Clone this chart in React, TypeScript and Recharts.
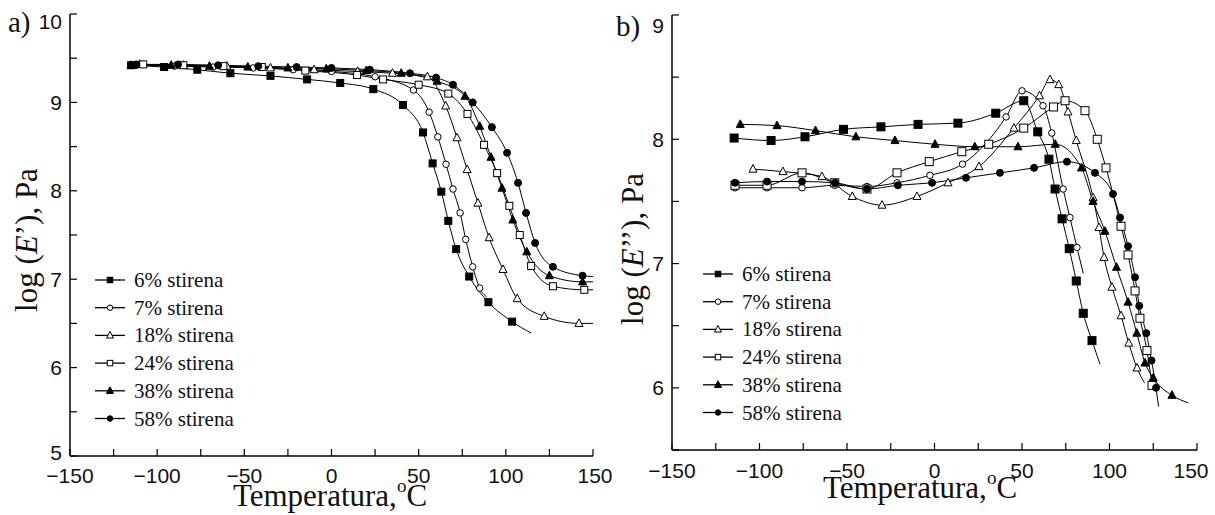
import React from 'react';
import { LineChart, Line, XAxis, YAxis, Legend } from 'recharts';

// ---------- Series names / legend ----------
const seriesNames = ['6% stirena', '7% stirena', '18% stirena', '24% stirena', '38% stirena', '58% stirena'];
const seriesShapes = ['square', 'circle', 'triangle', 'square', 'triangle', 'circle'];
const seriesFilled = [true, false, false, false, true, true];

// ---------- Panel a) log(E') ----------
const tA6 = [-115, -96, -77, -58, -35, -14, 5, 24, 41, 52.5, 58, 63, 67, 71.5, 79, 90, 103.6, 114.5];
const vA6 = [9.42, 9.40, 9.37, 9.33, 9.30, 9.26, 9.22, 9.15, 8.97, 8.66, 8.31, 7.99, 7.66, 7.34, 7.03, 6.74, 6.52, 6.39];
const tA7 = [-112, -90, -68, -45, -22, 0, 25, 47, 56, 61, 65.7, 69.7, 73.8, 77, 81, 85, 89];
const vA7 = [9.42, 9.41, 9.40, 9.39, 9.37, 9.35, 9.29, 9.14, 8.89, 8.61, 8.30, 8.02, 7.75, 7.45, 7.14, 6.90, 6.80];
const tA18 = [-110, -85, -60, -35, -10, 15, 35, 55, 65.5, 72, 77.8, 84, 90.4, 98.4, 106.5, 122, 142, 150];
const vA18 = [9.43, 9.42, 9.41, 9.39, 9.37, 9.35, 9.33, 9.29, 8.96, 8.60, 8.24, 7.86, 7.47, 7.11, 6.78, 6.58, 6.50, 6.50];
const tA24 = [-108, -85, -62, -40, -15, 14.7, 29.6, 50, 67, 78, 87.5, 95, 102, 108, 114.5, 127, 145, 150];
const vA24 = [9.43, 9.42, 9.41, 9.40, 9.36, 9.31, 9.26, 9.20, 9.10, 8.87, 8.52, 8.20, 7.83, 7.50, 7.15, 6.92, 6.88, 6.88];
const tA38 = [-115, -92, -70, -48, -25, -3, 20, 40, 60.6, 76.6, 85, 91.5, 97.8, 104, 112, 125, 144, 150];
const vA38 = [9.42, 9.42, 9.41, 9.40, 9.39, 9.38, 9.36, 9.33, 9.24, 9.07, 8.73, 8.38, 8.03, 7.67, 7.31, 7.04, 6.97, 6.97];
const tA58 = [-112, -88, -65, -42, -20, 0, 22, 45, 60, 69.7, 81, 92, 100.7, 107, 111.6, 116.8, 127, 144, 150];
const vA58 = [9.43, 9.43, 9.42, 9.41, 9.40, 9.39, 9.37, 9.33, 9.28, 9.20, 9.00, 8.72, 8.43, 8.09, 7.75, 7.41, 7.14, 7.04, 7.03];
const tailA = [true, true, true, true, true, true];

// ---------- Panel b) log(E'') ----------
const tB6 = [-114.5, -93.4, -74, -52, -30.6, -9.4, 13.4, 35, 51, 59, 65.4, 68.9, 72.9, 77, 81, 85, 90, 94.6];
const vB6 = [8.01, 7.99, 8.02, 8.08, 8.10, 8.12, 8.13, 8.21, 8.31, 8.06, 7.84, 7.60, 7.36, 7.12, 6.86, 6.60, 6.38, 6.19];
const tB7 = [-114, -95.7, -75.7, -57, -38.6, -21.4, -2.6, 16, 40.9, 50, 62, 67, 73.5, 77.4, 81.4, 85];
const vB7 = [7.61, 7.61, 7.61, 7.63, 7.62, 7.65, 7.71, 7.80, 8.18, 8.39, 8.27, 8.05, 7.60, 7.37, 7.13, 6.92];
const tB18 = [-103.7, -86.6, -64.3, -47, -30, -10, 7.7, 25.4, 45.4, 60, 66, 71, 76.3, 81, 90.6, 94, 96.9, 101.4, 106.6, 111, 115.7, 120];
const vB18 = [7.76, 7.74, 7.70, 7.54, 7.47, 7.54, 7.65, 7.78, 8.09, 8.35, 8.48, 8.44, 8.22, 7.99, 7.53, 7.29, 7.05, 6.81, 6.58, 6.36, 6.16, 6.04];
const tB24 = [-114, -95.7, -75.7, -57, -38.6, -21.4, -3, 15.6, 31, 51, 68, 74.6, 86, 93, 98, 106.6, 110.6, 114.6, 117.4, 121.4, 124.3];
const vB24 = [7.63, 7.63, 7.73, 7.65, 7.60, 7.73, 7.82, 7.90, 7.96, 8.09, 8.26, 8.31, 8.23, 8.00, 7.77, 7.30, 7.07, 6.78, 6.56, 6.30, 6.02];
const tB38 = [-111, -90, -68, -44.9, -22.6, 0.3, 23, 47.7, 69, 84, 90.6, 97.4, 104, 110.6, 115.6, 120.3, 125, 135.7, 145];
const vB38 = [8.12, 8.11, 8.07, 8.02, 7.99, 7.96, 7.94, 7.94, 7.96, 7.77, 7.50, 7.26, 6.97, 6.69, 6.44, 6.20, 6.08, 5.94, 5.88];
const tB58 = [-114, -95.7, -75.7, -56.9, -38.6, -20.9, -1.4, 18, 37.4, 56.9, 75.7, 91.7, 102, 106, 110.6, 114.6, 117, 121, 124, 126.6, 128];
const vB58 = [7.65, 7.66, 7.66, 7.65, 7.60, 7.63, 7.65, 7.69, 7.73, 7.77, 7.82, 7.73, 7.56, 7.37, 7.14, 6.89, 6.66, 6.44, 6.22, 6.00, 5.85];
const tailB = [true, true, true, false, true, true];

// ---------- Axes ----------
const xTicks = [-150, -125, -100, -75, -50, -25, 0, 25, 50, 75, 100, 125, 150];
const xLabels = [-150, -100, -50, 0, 50, 100, 150];
const yTicksA = [5, 5.5, 6, 6.5, 7, 7.5, 8, 8.5, 9, 9.5, 10];
const yLabelsA = [5, 6, 7, 8, 9, 10];
const yTicksB = [5.5, 6, 6.5, 7, 7.5, 8, 8.5, 9];
const yLabelsB = [6, 7, 8, 9];

const zip = (t: number[], v: number[]) => t.map((x, i) => ({ t: x, v: v[i] }));
const panelA = [zip(tA6, vA6), zip(tA7, vA7), zip(tA18, vA18), zip(tA24, vA24), zip(tA38, vA38), zip(tA58, vA58)];
const panelB = [zip(tB6, vB6), zip(tB7, vB7), zip(tB18, vB18), zip(tB24, vB24), zip(tB38, vB38), zip(tB58, vB58)];

const SERIF = '"Liberation Serif", "Times New Roman", serif';
const SANS = '"Liberation Sans", Arial, sans-serif';

const fmtNum = (v: number) => (v < 0 ? '\u2212' + Math.abs(v) : String(v));

function Marker({ shape, filled, cx, cy, s }: any) {
  const fill = filled ? '#000' : '#fff';
  if (shape === 'square')
    return <rect x={cx - s / 2} y={cy - s / 2} width={s} height={s} fill={fill} stroke="#000" strokeWidth={1} />;
  if (shape === 'circle') return <circle cx={cx} cy={cy} r={s / 2} fill={fill} stroke="#000" strokeWidth={1} />;
  const h = s * 0.95;
  return (
    <polygon
      points={`${cx},${cy - h * 0.6} ${cx - s / 2},${cy + h * 0.4} ${cx + s / 2},${cy + h * 0.4}`}
      fill={fill}
      stroke="#000"
      strokeWidth={1}
    />
  );
}

const makeDot = (idx: number, n: number, tail: boolean, big: boolean) => (props: any) => {
  const { cx, cy, index } = props;
  if ((tail && index === n - 1) || cx == null || cy == null) return <g key={`d-${idx}-${index}`} />;
  const shape = seriesShapes[idx];
  const s = shape === 'square' ? (big ? 8 : 7) : shape === 'circle' ? (seriesFilled[idx] ? 7 : 6.5) : 8;
  return (
    <g key={`d-${idx}-${index}`}>
      <Marker shape={shape} filled={seriesFilled[idx]} cx={cx} cy={cy} s={s} />
    </g>
  );
};

const makeXTick = (dyBase: number, lastShift: number) => (props: any) => {
  const { x, y, payload } = props;
  if (!xLabels.includes(payload.value)) return <g />;
  const dx = payload.value === 150 ? lastShift : 0;
  return (
    <text x={x + dx} y={y + dyBase} textAnchor="middle" fontFamily={SANS} fontSize={21} fill="#111">
      {fmtNum(payload.value)}
    </text>
  );
};

const makeYTick = (labels: number[], topVal: number, topShift: number, botVal: number, botShift: number) => (props: any) => {
  const { x, y, payload } = props;
  const v = payload.value;
  if (!labels.includes(v)) return <g />;
  let shift = 0;
  if (v === topVal) shift = topShift;
  if (v === botVal) shift = botShift;
  return (
    <text x={x} y={y + 7.5 + shift} textAnchor="end" fontFamily={SANS} fontSize={21} fill="#111">
      {v}
    </text>
  );
};

const makeLegend = () => () => (
  <svg width={230} height={175} style={{ display: 'block' }}>
    {seriesNames.map((name, i) => {
      const y = 14 + i * 27.7;
      return (
        <g key={name}>
          <line x1={5} x2={35} y1={y} y2={y} stroke="#000" strokeWidth={1.3} />
          <Marker shape={seriesShapes[i]} filled={seriesFilled[i]} cx={20} cy={y} s={seriesShapes[i] === 'triangle' ? 7 : 5.5} />
          <text x={44} y={y + 7} fontFamily={SERIF} fontSize={21} fill="#111">
            {name}
          </text>
        </g>
      );
    })}
  </svg>
);

function Panel({
  data, tails, width, margin, yAxisWidth, xAxisHeight, yDomain, yTicks, yTickFn, xTickFn, legendPos, big,
}: any) {
  return (
    <LineChart width={width} height={515} margin={margin} style={{ overflow: 'visible' }}>
      <XAxis
        type="number"
        dataKey="t"
        domain={[-150, 150]}
        ticks={xTicks}
        allowDataOverflow
        height={xAxisHeight}
        stroke="#000"
        axisLine={{ stroke: '#000', strokeWidth: 1.5 }}
        tickLine={{ stroke: '#000', strokeWidth: 1.2 }}
        tickSize={-7}
        tickMargin={19}
        tick={xTickFn}
        interval={0}
      />
      <XAxis
        xAxisId="top"
        orientation="top"
        type="number"
        domain={[-150, 150]}
        ticks={xTicks}
        allowDataOverflow
        height={0}
        axisLine={{ stroke: '#000', strokeWidth: 1.5 }}
        tickLine={{ stroke: '#000', strokeWidth: 1.2 }}
        tickSize={-7}
        tick={false}
        interval={0}
      />
      <YAxis
        type="number"
        domain={yDomain}
        ticks={yTicks}
        allowDataOverflow
        width={yAxisWidth}
        axisLine={{ stroke: '#000', strokeWidth: 1.5 }}
        tickLine={{ stroke: '#000', strokeWidth: 1.2 }}
        tickSize={-7}
        tickMargin={15}
        tick={yTickFn}
        interval={0}
      />
      <YAxis
        yAxisId="right"
        orientation="right"
        type="number"
        domain={yDomain}
        ticks={yTicks}
        allowDataOverflow
        width={0}
        axisLine={{ stroke: '#000', strokeWidth: 1.5 }}
        tickLine={{ stroke: '#000', strokeWidth: 1.2 }}
        tickSize={-7}
        tick={false}
        interval={0}
      />
      {data.map((d: any[], i: number) => (
        <Line
          key={seriesNames[i]}
          name={seriesNames[i]}
          data={d}
          dataKey="v"
          type="monotone"
          stroke="#000"
          strokeWidth={1}
          dot={makeDot(i, d.length, tails[i], big)}
          activeDot={false}
          isAnimationActive={false}
        />
      ))}
      <Legend
        layout="vertical"
        align="center"
        verticalAlign="middle"
        content={makeLegend()}
        wrapperStyle={{ left: legendPos[0], top: legendPos[1], width: 230, height: 175 }}
      />
    </LineChart>
  );
}

export default function App() {
  return (
    <div style={{ position: 'absolute', left: 0, top: 0, width: 1215, height: 515, background: '#fff', overflow: 'hidden' }}>
      <style>{'.recharts-surface{overflow:visible}'}</style>
      <div style={{ position: 'absolute', left: 0, top: 0 }}>
        <Panel
          data={panelA}
          tails={tailA}
          width={600}
          margin={{ top: 14, right: 7, bottom: 0, left: 0 }}
          yAxisWidth={70}
          xAxisHeight={59}
          yDomain={[5, 10]}
          yTicks={yTicksA}
          yTickFn={makeYTick(yLabelsA, 10, 7, 5, -4)}
          xTickFn={makeXTick(15, 2)}
          legendPos={[90, 266]}
          big={false}
        />
      </div>
      <div style={{ position: 'absolute', left: 600, top: 0 }}>
        <Panel
          data={panelB}
          tails={tailB}
          width={615}
          margin={{ top: 15, right: 18, bottom: 0, left: 0 }}
          yAxisWidth={72}
          xAxisHeight={65}
          yDomain={[5.5, 9]}
          yTicks={yTicksB}
          yTickFn={makeYTick(yLabelsB, 9, 10, 5.5, 0)}
          xTickFn={makeXTick(16, -6)}
          legendPos={[98, 260]}
          big={true}
        />
      </div>
      <svg
        width={1215}
        height={515}
        style={{ position: 'absolute', left: 0, top: 0, pointerEvents: 'none' }}
      >
        <text x={8} y={32} fontFamily={SERIF} fontSize={29} fill="#111">a)</text>
        <text x={616} y={36} fontFamily={SERIF} fontSize={29} fill="#111">b)</text>
        <text x={330} y={506} textAnchor="middle" fontFamily={SERIF} fontSize={31} fill="#111">
          Temperatura,<tspan fontSize={19} dy={-14}>o</tspan><tspan dy={14}>C</tspan>
        </text>
        <text x={920} y={498} textAnchor="middle" fontFamily={SERIF} fontSize={31} fill="#111">
          Temperatura,<tspan fontSize={19} dy={-14}>o</tspan><tspan dy={14}>C</tspan>
        </text>
        <text x={37} y={240} transform="rotate(-90 37 240)" textAnchor="middle" fontFamily={SERIF} fontSize={31} fill="#111">
          log (<tspan fontStyle="italic">E</tspan>’), Pa
        </text>
        <text x={643} y={249} transform="rotate(-90 643 249)" textAnchor="middle" fontFamily={SERIF} fontSize={31} fill="#111">
          log (<tspan fontStyle="italic">E</tspan>’’), Pa
        </text>
      </svg>
    </div>
  );
}
